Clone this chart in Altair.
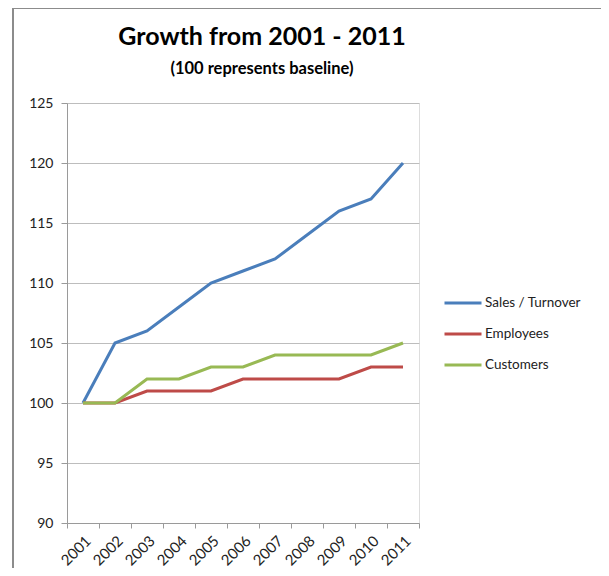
import altair as alt
import pandas as pd

years = ["2001", "2002", "2003", "2004", "2005", "2006", "2007", "2008", "2009", "2010", "2011"]
sales = [100, 105, 106, 108, 110, 111, 112, 114, 116, 117, 120]
employees = [100, 100, 101, 101, 101, 102, 102, 102, 102, 103, 103]
customers = [100, 100, 102, 102, 103, 103, 104, 104, 104, 104, 105]
series_names = ["Sales / Turnover", "Employees", "Customers"]
series_colors = ["#4a7ebb", "#be4b48", "#98b954"]

rows = []
for name, vals in zip(series_names, [sales, employees, customers]):
    for y, v in zip(years, vals):
        rows.append({"Year": y, "Value": v, "Series": name})
df = pd.DataFrame(rows)

W, H = 352, 420

lines = alt.Chart(df).mark_line(strokeWidth=3).encode(
    x=alt.X("Year:O", sort=years, bandPosition=0.5,
            scale=alt.Scale(type="band", paddingInner=0, paddingOuter=0),
            axis=alt.Axis(title=None, labelAngle=-45, tickBand="extent", grid=False,
                          labelFontSize=15, labelColor="#222222", labelFont="Lato",
                          domainColor="#9a9a9a", tickColor="#9a9a9a", tickSize=5,
                          labelPadding=5)),
    y=alt.Y("Value:Q", scale=alt.Scale(domain=[90, 125], nice=False, zero=False),
            axis=alt.Axis(title=None, values=[90, 95, 100, 105, 110, 115, 120, 125],
                          labelFontSize=14, labelColor="#222222", labelFont="Lato",
                          domainColor="#9a9a9a", tickColor="#9a9a9a", tickSize=6,
                          labelPadding=8, gridColor="#bdbdbd", gridWidth=1.2)),
    color=alt.Color("Series:N", sort=series_names,
                    scale=alt.Scale(domain=series_names, range=series_colors),
                    legend=alt.Legend(title=None, orient="none", legendX=376, legendY=180,
                                      symbolType="stroke", symbolSize=1369, symbolStrokeWidth=3,
                                      labelFontSize=13.5, labelFont="Lato", labelColor="#222222",
                                      rowPadding=4, labelOffset=2)),
)

frame = alt.Chart(pd.DataFrame({"k": [0]})).mark_rect(
    filled=False, stroke="#8c8c8c", strokeWidth=2
).encode(
    x=alt.value(-54), x2=alt.value(538), y=alt.value(-95), y2=alt.value(520)
)

chart = alt.layer(frame, lines).properties(
    width=W, height=H,
    title=alt.Title(
        "Growth from 2001 - 2011",
        subtitle="(100 represents baseline)",
        anchor="middle", frame="group", dx=19, offset=-70,
        font="Lato", fontSize=25, fontWeight="bold", color="#000000",
        subtitleFont="Lato", subtitleFontSize=16.5, subtitleFontWeight="bold",
        subtitleColor="#000000", subtitlePadding=11,
    ),
    autosize=alt.AutoSizeParams(type="none"),
    padding={"left": 59, "top": 95, "right": 182, "bottom": 45},
).configure_view(stroke=None).configure(background="white")

chart.save("out.html", embed_options={"renderer": "svg", "actions": False})
